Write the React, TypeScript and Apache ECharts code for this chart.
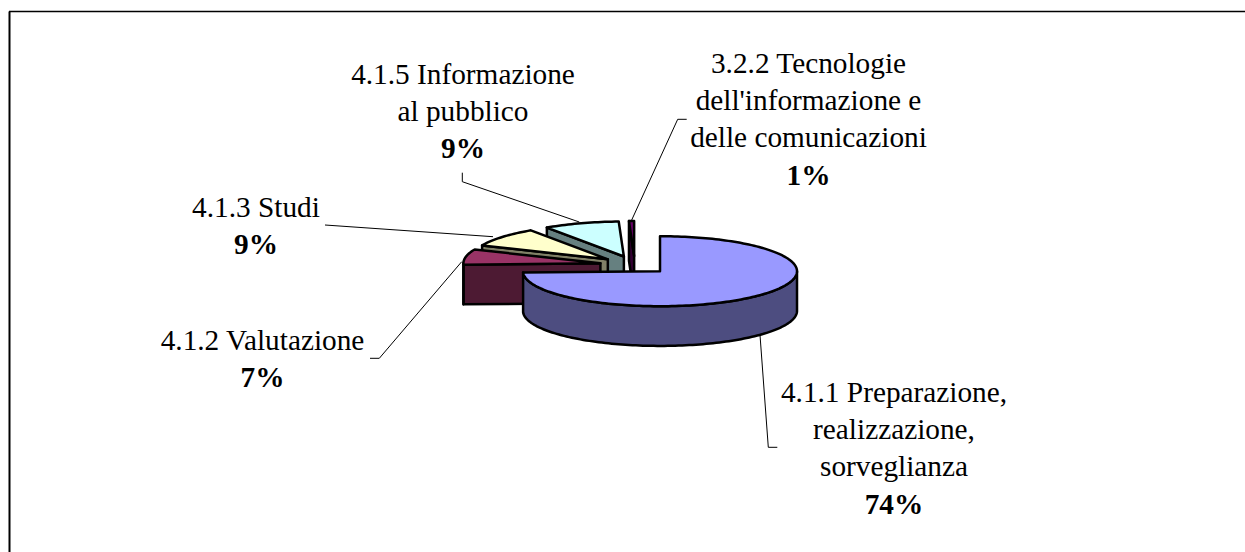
import React, { useEffect, useRef } from "react";
import * as echarts from "echarts";

const CATEGORIES = [
  ["4.1.1 Preparazione,", "realizzazione,", "sorveglianza"],
  ["4.1.2 Valutazione"],
  ["4.1.3 Studi"],
  ["4.1.5 Informazione", "al pubblico"],
  ["3.2.2 Tecnologie", "dell'informazione e", "delle comunicazioni"],
];
const VALUES = [74.4, 7.1, 9, 8.9, 0.6];
const TOP_COLORS = ["#9999FF", "#993366", "#FFFFCC", "#CCFFFF", "#660066"];
const SIDE_COLORS = ["#4D4D80", "#4D1A33", "#808066", "#668080", "#330033"];

// Layout, kept apart from the data
const CX = 634.8;
const CY = 265;
const RX = 137;
const RY = 35;
const DEPTH = 39.7;
const EXPLODE = 35;
const FONT = '"Liberation Serif", "Times New Roman", serif';
const LABEL_POS = [
  [894, 373],
  [262.5, 321],
  [256, 188],
  [463, 55],
  [808.5, 44],
];
const LEADERS = [
  [[760, 335], [768.3, 447.3], [777.3, 447.3]],
  [[370, 358.3], [379.3, 358.3], [461.7, 261.7]],
  [[325, 225], [493, 236.7]],
  [[462.3, 172.7], [462.3, 181.7], [579.3, 222]],
  [[686.7, 119.3], [677.7, 119.3], [631.7, 220]],
];

const TOTAL = VALUES.reduce((a, b) => a + b, 0);
const RAD = Math.PI / 180;

function sliceAngles(i: number): [number, number] {
  const before = VALUES.slice(0, i).reduce((a, b) => a + b, 0);
  return [(before / TOTAL) * 360, ((before + VALUES[i]) / TOTAL) * 360];
}

function renderSlice(params: any, api: any) {
  const i = api.value(1) as number;
  const [a0, a1] = sliceAngles(i);
  const mid = ((a0 + a1) / 2) * RAD;
  const ax = CX + EXPLODE * Math.sin(mid);
  const ay = CY - (EXPLODE * RY * Math.cos(mid)) / RX;
  const rim = (deg: number): number[] => [
    ax + RX * Math.sin(deg * RAD),
    ay - RY * Math.cos(deg * RAD),
  ];
  const arc = (from: number, to: number): number[][] => {
    const n = Math.max(2, Math.ceil((to - from) / 1.5));
    const pts: number[][] = [];
    for (let k = 0; k <= n; k++) pts.push(rim(from + ((to - from) * k) / n));
    return pts;
  };
  const stroke = { stroke: "#000", lineWidth: 2.5, lineJoin: "round" };
  const children: any[] = [];
  const poly = (points: number[][], fill: string) =>
    children.push({ type: "polygon", shape: { points }, style: { fill, ...stroke } });
  const side = SIDE_COLORS[i];
  const down = (p: number[]) => [p[0], p[1] + DEPTH];

  if (Math.sin(a1 * RAD) > 1e-6) {
    const e = rim(a1);
    poly([[ax, ay], e, down(e), [ax, ay + DEPTH]], side);
  }
  if (Math.sin(a0 * RAD) < -1e-6) {
    const e = rim(a0);
    poly([[ax, ay], e, down(e), [ax, ay + DEPTH]], side);
  }
  const w0 = Math.max(a0, 90);
  const w1 = Math.min(a1, 270);
  if (w1 > w0) {
    const top = arc(w0, w1);
    poly([...top, ...top.slice().reverse().map(down)], side);
  }
  poly([[ax, ay], ...arc(a0, a1)], TOP_COLORS[i]);

  const lines = CATEGORIES[i].map((t) => `{n|${t}}`).join("\n");
  const pct = `{p|${Math.round(VALUES[i])}%}`;
  children.push({
    type: "polyline",
    shape: { points: LEADERS[i] },
    z2: 50,
    style: { fill: "none", stroke: "#000", lineWidth: 1 },
  });
  children.push({
    type: "text",
    x: LABEL_POS[i][0],
    y: LABEL_POS[i][1],
    z2: 60,
    style: {
      text: `${lines}\n${pct}`,
      align: "center",
      verticalAlign: "top",
      fill: "#000",
      rich: {
        n: { fontFamily: FONT, fontSize: 29.3, lineHeight: 37.3, fill: "#000", align: "center" },
        p: { fontFamily: FONT, fontSize: 29.3, fontWeight: "bold", lineHeight: 37.3, fill: "#000", align: "center" },
      },
    },
  });
  return { type: "group", children };
}

export default function App() {
  const ref = useRef<HTMLDivElement>(null);
  useEffect(() => {
    const chart = echarts.init(ref.current!, null, { renderer: "svg" });
    const order = VALUES.map((_, i) => i).reverse();
    chart.setOption({
      animation: false,
      backgroundColor: "#fff",
      graphic: [
        { type: "line", shape: { x1: 9.5, y1: 11.5, x2: 9.5, y2: 552 }, style: { stroke: "#000", lineWidth: 2 } },
        { type: "line", shape: { x1: 9, y1: 11.5, x2: 1245, y2: 11.5 }, style: { stroke: "#000", lineWidth: 1.5 } },
      ],
      series: [
        {
          type: "custom",
          coordinateSystem: "none",
          renderItem: renderSlice,
          data: order.map((i) => [VALUES[i], i]),
          encode: { value: 0 },
          silent: true,
        },
      ],
    });
    return () => chart.dispose();
  }, []);
  return <div ref={ref} style={{ position: "fixed", left: 0, top: 0, width: 1245, height: 552 }} />;
}
